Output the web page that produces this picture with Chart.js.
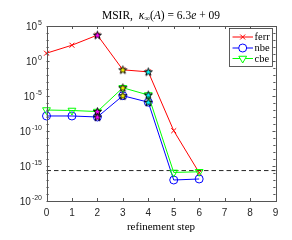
<!DOCTYPE html>
<html>
<head>
<meta charset="utf-8">
<script src="https://cdn.jsdelivr.net/npm/chart.js@4.4.1/dist/chart.umd.min.js"></script>
<style>
html, body { margin: 0; padding: 0; background: #fff; }
#wrap { width: 292px; height: 240px; }
</style>
</head>
<body>
<div id="wrap"><canvas id="myChart"></canvas></div>
<script>
// data
const steps = [0, 1, 2, 3, 4, 5, 6];
const ferr = [1.3e1, 1.8e2, 5.0e3, 5.5e-2, 2.8e-2, 1.1e-10, 1.1e-16];
const nbe = [1.4e-8, 1.4e-8, 1.0e-8, 1.1e-5, 1.3e-6, 1.0e-17, 1.4e-17];
const cbe = [1.0e-7, 8.5e-8, 6.0e-8, 1.5e-4, 1.4e-5, 1.2e-16, 1.5e-16];
const starSteps = [2, 3, 4];
const starColors = ['#ff00ff', '#ffff00', '#00ffff'];
const epsLine = 2.22e-16;
const xTicks = [0, 1, 2, 3, 4, 5, 6, 7, 8, 9];
const yLabelExps = [5, 0, -5, -10, -15, -20];
const seriesNames = ['ferr', 'nbe', 'cbe'];

const axisColor = '#262626';
const tickFont = '"Liberation Sans", Arial, sans-serif';
const serif = '"Liberation Serif", "DejaVu Serif", serif';

// pentagram marker
function makeStar(fill) {
  const c = document.createElement('canvas');
  c.width = 11; c.height = 11;
  const g = c.getContext('2d');
  const R = 4.2, r = 1.7;
  g.beginPath();
  for (let i = 0; i < 10; i++) {
    const rad = i % 2 == 0 ? R : r;
    const a = -Math.PI / 2 + i * Math.PI / 5;
    const px = 5.5 + rad * Math.cos(a), py = 5.8 + rad * Math.sin(a);
    if (i == 0) g.moveTo(px, py); else g.lineTo(px, py);
  }
  g.closePath();
  g.fillStyle = fill;
  g.fill();
  g.strokeStyle = '#000';
  g.lineWidth = 1;
  g.stroke();
  return c;
}

const toXY = arr => steps.map((s, i) => ({ x: s, y: arr[i] }));

const datasets = [
  {
    label: 'ferr', data: toXY(ferr), showLine: true,
    borderColor: '#ff0000', backgroundColor: 'rgba(0,0,0,0)', borderWidth: 1,
    pointStyle: 'crossRot', pointRadius: 3.5, pointBorderWidth: 1, pointBorderColor: '#ff0000',
    clip: false, order: 5
  },
  {
    label: 'nbe', data: toXY(nbe), showLine: true,
    borderColor: '#0000ff', backgroundColor: 'rgba(0,0,0,0)', borderWidth: 1,
    pointStyle: 'circle', pointRadius: 4, pointBorderWidth: 1, pointBorderColor: '#0000ff',
    clip: false, order: 4
  },
  {
    label: 'cbe', data: toXY(cbe), showLine: true,
    borderColor: '#00ff00', backgroundColor: 'rgba(0,0,0,0)', borderWidth: 1,
    pointStyle: 'triangle', rotation: 180, pointRadius: 4.5, pointBorderWidth: 1, pointBorderColor: '#00ff00',
    clip: false, order: 3
  }
];

starSteps.forEach((s, k) => {
  datasets.push({
    label: 'star' + s,
    data: [ferr, nbe, cbe].map(arr => ({ x: s, y: arr[s] })),
    showLine: false,
    pointStyle: makeStar(starColors[k]),
    pointRadius: 4,
    clip: false, order: 2
  });
});

datasets.push({
  label: 'eps',
  data: [{ x: xTicks[0], y: epsLine }, { x: xTicks[xTicks.length - 1], y: epsLine }],
  showLine: true, borderColor: '#262626', borderWidth: 1, borderDash: [4.5, 3],
  pointRadius: 0, clip: false, order: 6
});

const frame = {
  id: 'frame',
  afterDatasetsDraw(chart) {
    const ctx = chart.ctx;
    const a = chart.chartArea;
    const xs = chart.scales.x, ys = chart.scales.y;
    ctx.save();
    ctx.strokeStyle = '#555';
    ctx.lineWidth = 1;
    ctx.strokeRect(Math.round(a.left) + 0.5, Math.round(a.top) + 0.5,
      Math.round(a.right - a.left), Math.round(a.bottom - a.top));
    ctx.beginPath();
    xTicks.forEach(v => {
      const px = Math.round(xs.getPixelForValue(v)) + 0.5;
      ctx.moveTo(px, a.bottom); ctx.lineTo(px, a.bottom - 3);
      ctx.moveTo(px, a.top); ctx.lineTo(px, a.top + 3);
    });
    for (let e = -20; e <= 5; e++) {
      const py = Math.round(ys.getPixelForValue(Math.pow(10, e))) + 0.5;
      const len = yLabelExps.includes(e) ? 3 : 2.2;
      ctx.moveTo(a.left, py); ctx.lineTo(a.left + len, py);
      ctx.moveTo(a.right, py); ctx.lineTo(a.right - len, py);
    }
    ctx.stroke();

    // y labels 10^k
    ctx.fillStyle = axisColor;
    ctx.textBaseline = 'middle';
    yLabelExps.forEach(e => {
      const py = ys.getPixelForValue(Math.pow(10, e));
      const sup = e < 0 ? '-' + (-e) : String(e);
      ctx.font = '7px ' + tickFont;
      const sw = ctx.measureText(sup).width;
      const right = 42;
      ctx.textAlign = 'right';
      ctx.fillText(sup, right, py - 3);
      ctx.font = '10px ' + tickFont;
      ctx.fillText('10', right - sw - 1, py + 1.5);
    });
    ctx.restore();
  },
  afterDraw(chart) {
    const ctx = chart.ctx;
    const a = chart.chartArea;
    ctx.save();
    // legend box
    const bx = 229.5, by = 28.5, bw = 43, bh = 38;
    ctx.fillStyle = '#fff';
    ctx.fillRect(bx, by, bw, bh);
    ctx.strokeStyle = '#333';
    ctx.lineWidth = 0.8;
    ctx.strokeRect(bx, by, bw, bh);
    const rows = [37, 48, 58.5];
    datasets.slice(0, 3).forEach((d, i) => {
      const y = rows[i];
      ctx.strokeStyle = d.borderColor;
      ctx.lineWidth = 1;
      ctx.beginPath();
      ctx.moveTo(232.5, y); ctx.lineTo(253, y);
      ctx.stroke();
      ctx.fillStyle = '#fff';
      Chart.helpers.drawPoint(ctx, {
        pointStyle: d.pointStyle, radius: d.pointRadius, rotation: d.rotation || 0, borderWidth: 1
      }, 242.7, y);
      ctx.fillStyle = '#000';
      ctx.font = '10.5px ' + serif;
      ctx.textAlign = 'left';
      ctx.textBaseline = 'middle';
      ctx.fillText(seriesNames[i], 254.5, y + 0.5);
    });

    // title with math parts
    const parts = [
      { t: 'MSIR,  ', f: '11.5px ' + serif, dy: 0 },
      { t: 'κ', f: 'italic 11.5px ' + serif, dy: 0 },
      { t: '∞', f: '8px ' + serif, dy: 2.5 },
      { t: '(', f: '11.5px ' + serif, dy: 0 },
      { t: 'A', f: 'italic 11.5px ' + serif, dy: 0 },
      { t: ') = 6.3', f: '11.5px ' + serif, dy: 0 },
      { t: 'e', f: 'italic 11.5px ' + serif, dy: 0 },
      { t: ' + 09', f: '11.5px ' + serif, dy: 0 }
    ];
    let total = 0;
    parts.forEach(p => { ctx.font = p.f; p.w = ctx.measureText(p.t).width; total += p.w; });
    let x = (a.left + a.right) / 2 - total / 2;
    ctx.fillStyle = '#000';
    ctx.textAlign = 'left';
    ctx.textBaseline = 'middle';
    parts.forEach(p => {
      ctx.font = p.f;
      ctx.fillText(p.t, x, 16 + p.dy);
      x += p.w;
    });
    ctx.restore();
  }
};

const ctx = document.getElementById('myChart');

new Chart(ctx, {
  type: 'scatter',
  data: { datasets: datasets },
  options: {
    responsive: true,
    maintainAspectRatio: false,
    animation: false,
    events: [],
    layout: { padding: { top: 26, right: 16.5, left: 0, bottom: 0 } },
    plugins: { legend: { display: false }, tooltip: { enabled: false }, title: { display: false } },
    scales: {
      x: {
        type: 'linear', min: 0, max: 9,
        grid: { display: false, drawTicks: false },
        border: { display: false },
        afterBuildTicks: scale => { scale.ticks = xTicks.map(v => ({ value: v })); },
        afterFit: scale => { scale.height = 39; },
        ticks: {
          color: axisColor, padding: 6, maxRotation: 0,
          font: { family: tickFont, size: 10 },
          callback: v => String(v)
        },
        title: {
          display: true, text: 'refinement step', color: '#000',
          font: { family: serif, size: 11 }, padding: { top: 0, bottom: 6 }
        }
      },
      y: {
        type: 'logarithmic', min: 1e-20, max: 1e5,
        grid: { display: false, drawTicks: false },
        border: { display: false },
        ticks: { display: false },
        afterFit: scale => { scale.width = 46.5; }
      }
    }
  },
  plugins: [frame]
});
</script>
</body>
</html>
